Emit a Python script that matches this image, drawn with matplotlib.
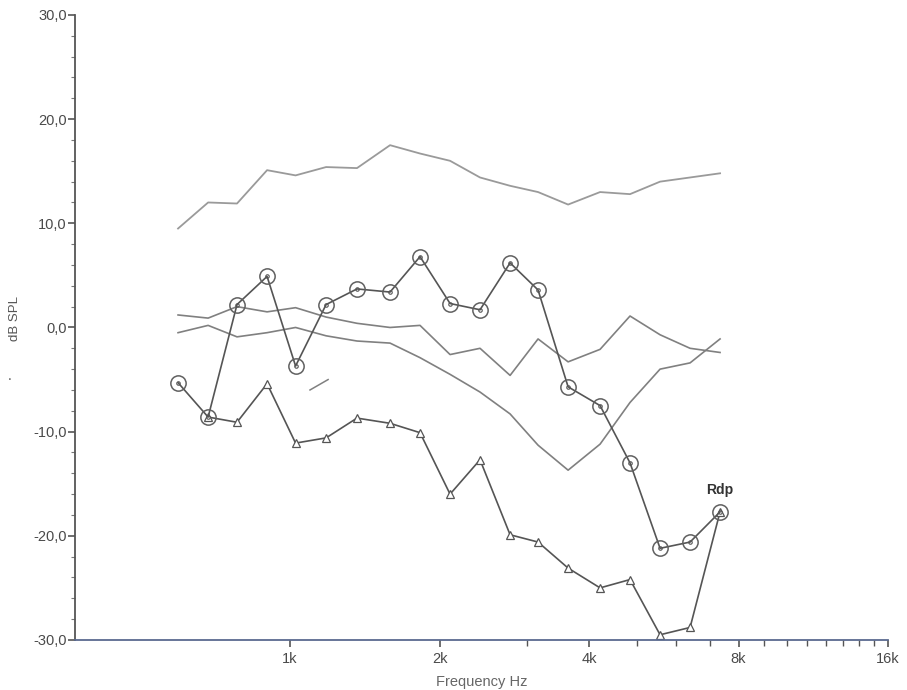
# Import necessary libraries
import matplotlib.pyplot as plt
from matplotlib.ticker import FixedLocator, NullFormatter

# Measurement frequencies (Hz), shared by all curves
freqs = [595, 684, 782, 899, 1026, 1182, 1364, 1590, 1827, 2100,
         2413, 2774, 3158, 3630, 4210, 4837, 5560, 6390, 7343]

# Curves in dB SPL
upper_limit = [9.5, 12.0, 11.9, 15.1, 14.6, 15.4, 15.3, 17.5, 16.7, 16.0,
               14.4, 13.6, 13.0, 11.8, 13.0, 12.8, 14.0, 14.4, 14.8]
mid_upper = [1.2, 0.9, 2.0, 1.5, 1.9, 1.0, 0.4, 0.0, 0.2, -2.6,
             -2.0, -4.6, -1.1, -3.3, -2.1, 1.1, -0.7, -2.0, -2.4]
mid_lower = [-0.5, 0.2, -0.9, -0.5, 0.0, -0.8, -1.3, -1.5, -2.9, -4.5,
             -6.2, -8.3, -11.3, -13.7, -11.2, -7.2, -4.0, -3.4, -1.1]
circles_db = [-5.3, -8.6, 2.2, 4.9, -3.7, 2.2, 3.7, 3.4, 6.8, 2.3,
              1.7, 6.2, 3.6, -5.7, -7.5, -13.0, -21.2, -20.6, -17.7]
tri_freqs = freqs[1:]
triangles_db = [-8.6, -9.1, -5.4, -11.1, -10.6, -8.7, -9.2, -10.1, -16.0,
                -12.7, -19.9, -20.6, -23.1, -25.0, -24.2, -29.5, -28.8, -17.7]

# Short leftover trace segment
stub_freqs = [1097, 1193]
stub_db = [-6.0, -5.0]

marker_label = "Rdp"

plt.rcParams['font.family'] = ['Liberation Sans', 'DejaVu Sans']

fig = plt.figure(figsize=(9.07, 6.9), dpi=100)
ax = fig.add_axes([0.0827, 0.0725, 0.8964, 0.9058])

light = '#9a9a9a'
mid = '#808080'
dark = '#555555'

ax.plot(freqs, upper_limit, color=light, lw=1.3)
ax.plot(freqs, mid_upper, color=mid, lw=1.2)
ax.plot(freqs, mid_lower, color=mid, lw=1.2)
ax.plot(stub_freqs, stub_db, color=mid, lw=1.1)
ax.plot(tri_freqs, triangles_db, color=dark, lw=1.2, marker='^', ms=6,
        mfc='white', mec=dark, mew=0.9)
ax.plot(freqs, circles_db, color=dark, lw=1.2, marker='o', ms=11,
        mfc='none', mec='#606060', mew=1.1)
ax.plot(freqs, circles_db, ls='none', marker='o', ms=2.5, mfc='none',
        mec=dark, mew=0.8)

ax.annotate(marker_label, (freqs[-1], circles_db[-1]), xytext=(0, 11),
            textcoords='offset points', ha='center', va='bottom',
            fontsize=10, fontweight='bold', color='#333333')

# Log frequency axis, labelled at octaves
ax.set_xscale('log')
ax.set_xlim(369, 16000)
ax.xaxis.set_major_locator(FixedLocator([1000, 2000, 4000, 8000, 16000]))
ax.set_xticklabels(['1k', '2k', '4k', '8k', '16k'])
ax.xaxis.set_minor_locator(FixedLocator([3000, 5000, 6000, 7000] + list(range(9000, 16000, 1000))))
ax.xaxis.set_minor_formatter(NullFormatter())

ax.set_ylim(-30, 30)
ax.set_yticks(range(-30, 31, 10))
ax.set_yticklabels([f"{v},0" for v in range(-30, 31, 10)])
ax.set_yticks(range(-30, 31, 2), minor=True)

ax.tick_params(axis='both', which='major', labelsize=10.5, labelcolor='#4a4a4a',
               color='#555555', direction='out')
ax.tick_params(axis='y', which='major', length=5, width=1.2, pad=1)
ax.tick_params(axis='y', which='minor', length=3, width=0.8, color='#777777')
ax.tick_params(axis='x', which='major', length=5, width=1.2, pad=4)
ax.tick_params(axis='x', which='minor', length=4, width=1.0, color='#555555')

for side in ['top', 'right']:
    ax.spines[side].set_visible(False)
ax.spines['left'].set_color('#555555')
ax.spines['left'].set_linewidth(1.3)
ax.spines['bottom'].set_color('#5a6a90')
ax.spines['bottom'].set_linewidth(1.3)

ax.set_xlabel("Frequency Hz", fontsize=10.5, color='#666666', labelpad=6)
ax.set_ylabel("dB SPL", fontsize=9.5, color='#555555')
ax.yaxis.set_label_coords(-0.066, 0.515)
fig.text(0.008, 0.45, ".", fontsize=10, color='#555555')

plt.savefig('out.png', dpi=100)
